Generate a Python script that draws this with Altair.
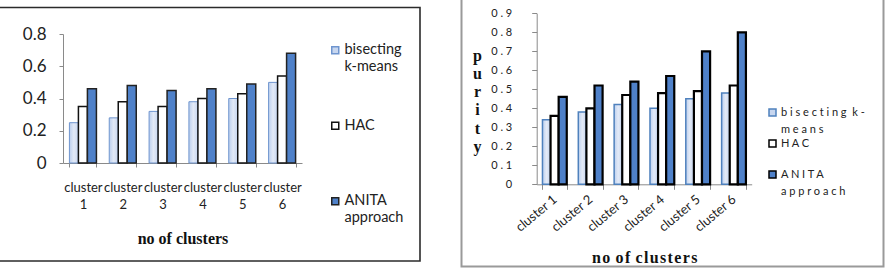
import altair as alt
import pandas as pd

# Categories and series shared by both panels
clusters = ["cluster 1", "cluster 2", "cluster 3", "cluster 4", "cluster 5", "cluster 6"]
series = ["bisecting k-means", "HAC", "ANITA approach"]

# Left panel values
left_bisecting = [0.25, 0.28, 0.32, 0.38, 0.40, 0.50]
left_hac = [0.35, 0.38, 0.35, 0.40, 0.43, 0.54]
left_anita = [0.46, 0.48, 0.45, 0.46, 0.49, 0.68]
left_ticks = [0, 0.2, 0.4, 0.6, 0.8]

# Right panel values (purity)
right_bisecting = [0.34, 0.38, 0.42, 0.40, 0.45, 0.48]
right_hac = [0.36, 0.40, 0.47, 0.48, 0.49, 0.52]
right_anita = [0.46, 0.52, 0.54, 0.57, 0.70, 0.80]
right_ticks = [0, 0.1, 0.2, 0.3, 0.4, 0.5, 0.6, 0.7, 0.8, 0.9]

NBSP = "\u00a0"
HAIR = "\u200a"


def long_table(*columns):
    rows = []
    for name, values in zip(series, columns):
        for c, v in zip(clusters, values):
            rows.append({"cluster": c, "series": name, "value": v})
    return pd.DataFrame(rows)


left_df = long_table(left_bisecting, left_hac, left_anita)
right_df = long_table(right_bisecting, right_hac, right_anita)

FILL = ["#c7d6ef", "#ffffff", "#4f81c9"]
bisect_gradient = {
    "gradient": "linear",
    "x1": 0, "y1": 0, "x2": 1, "y2": 0,
    "stops": [
        {"offset": 0, "color": "#bccfee"},
        {"offset": 0.5, "color": "#e3eaf7"},
        {"offset": 1, "color": "#c6d5ef"},
    ],
}
is_bisect = alt.datum.series == "bisecting k-means"


def spaced(text, gap=" "):
    """Letter-spaced text: a gap between letters, a wider one between words."""
    return (NBSP + gap).join(gap.join(list(w)) for w in text.split(" "))


def label_expr(mapping):
    expr = "datum.label"
    for key, lines in reversed(list(mapping.items())):
        arr = "[" + ", ".join("'" + l + "'" for l in lines) + "]"
        expr = f"datum.label == '{key}' ? {arr} : ({expr})"
    return expr


# every entry takes two lines so the legend rows are evenly spaced
left_legend_labels = {
    "bisecting k-means": ["bisecting", "k-means"],
    "HAC": ["HAC", NBSP],
    "ANITA approach": ["ANITA", "approach"],
}
right_legend_labels = {
    "bisecting k-means": [spaced("bisecting k-"), spaced("means")],
    "HAC": [spaced("HAC"), NBSP],
    "ANITA approach": [spaced("ANITA"), spaced("approach")],
}


def legend(x, y, labels, font_size, row_pad, offset):
    return alt.Legend(
        title=None, orient="none", legendX=x, legendY=y,
        symbolType="square", symbolSize=49, symbolStrokeWidth=1.5,
        labelFont="Lato", labelFontSize=font_size, labelColor="#222",
        labelExpr=label_expr(labels), labelLimit=300, labelBaseline="middle",
        rowPadding=row_pad, labelOffset=offset,
    )


def bar_layer(df, x_range, x_axis, y_domain, y_range, y_axis, leg, strokes, widths):
    return alt.Chart(df).mark_bar().encode(
        x=alt.X("cluster:N", sort=clusters,
                scale=alt.Scale(range=x_range, paddingInner=0.322, paddingOuter=0.161),
                axis=x_axis),
        xOffset=alt.XOffset("series:N", sort=series, scale=alt.Scale(paddingInner=0, paddingOuter=0)),
        y=alt.Y("value:Q", scale=alt.Scale(domain=y_domain, range=y_range, nice=False),
                axis=y_axis),
        fill=alt.condition(is_bisect, alt.value(bisect_gradient),
                           alt.Fill("series:N", sort=series,
                                    scale=alt.Scale(domain=series, range=FILL), legend=leg)),
        stroke=alt.Stroke("series:N", sort=series,
                          scale=alt.Scale(domain=series, range=strokes), legend=leg),
        strokeWidth=alt.condition(is_bisect, alt.value(widths[0]), alt.value(widths[1])),
    )


H = 272

left_bars = bar_layer(
    left_df, [63, 302],
    alt.Axis(orient="bottom", offset=-(H - 163), labelAngle=0,
             labelExpr="split(datum.label, ' ')", labelFont="Lato", labelFontSize=13,
             labelLineHeight=17, labelColor="#222", labelPadding=14,
             tickBand="extent", tickSize=4, domainColor="#8a8a8a", tickColor="#8a8a8a",
             title="no of clusters", titleFont="Liberation Serif", titleFontWeight="bold",
             titleFontSize=16, titleColor="#111", titleY=75, titleBaseline="middle"),
    [0, 0.8], [163, 34],
    alt.Axis(orient="left", offset=-63, values=left_ticks, format=".1~f", grid=False,
             labelFont="Lato", labelFontSize=17, labelColor="#222", labelPadding=13,
             tickSize=4, domainColor="#8a8a8a", tickColor="#8a8a8a", title=None),
    legend(328, 43, left_legend_labels, 14.5, 43.5, 2),
    ["#6f95cf", "#111111", "#222222"], [1, 1.5],
)

right_bars = bar_layer(
    right_df, [536.7, 751.7],
    alt.Axis(orient="bottom", offset=-(H - 184.3), labelAngle=-40, labelAlign="right",
             labelBaseline="middle", labelFont="Lato", labelFontSize=13,
             labelColor="#222", labelPadding=8,
             tickBand="extent", tickSize=5, domainColor="#8a8a8a", tickColor="#8a8a8a",
             title=spaced("no of clusters", HAIR), titleFont="Liberation Serif",
             titleFontWeight="bold", titleFontSize=16, titleColor="#111",
             titleY=73.5, titleBaseline="middle"),
    [0, 0.9], [184.3, 13.3],
    alt.Axis(orient="left", offset=-536.7, values=right_ticks, format=".1~f", grid=False,
             labelExpr="join(split(datum.label, ''), ' ')",
             labelFont="Lato", labelFontSize=11, labelColor="#222", labelPadding=20,
             tickSize=5, domainColor="#8a8a8a", tickColor="#8a8a8a",
             title=["p", "u", "r", "i", "t", "y"], titleAngle=0, titleAlign="center",
             titleBaseline="middle", titleX=-59.7, titleY=55, titleLineHeight=18.3,
             titleFont="Liberation Serif", titleFontWeight="bold", titleFontSize=16,
             titleColor="#111"),
    legend(767, 107, right_legend_labels, 11, 2, 3),
    ["#4f81bd", "#000000", "#000000"], [1.5, 2.2],
)

one = alt.Data(values=[{}])
left_box = alt.Chart(one).mark_rect(fillOpacity=0, stroke="#2b2b2b", strokeWidth=1.6).encode(
    x=alt.value(-6), x2=alt.value(420), y=alt.value(7.5), y2=alt.value(261)
)
right_box = alt.Chart(one).mark_rect(fillOpacity=0, stroke="#9a9a9a", strokeWidth=2).encode(
    x=alt.value(461.5), x2=alt.value(883.5), y=alt.value(-4), y2=alt.value(266.5)
)

chart = (
    alt.layer(left_box, right_box, left_bars, right_bars)
    .resolve_scale(x="independent", y="independent", xOffset="independent",
                   fill="independent", stroke="independent")
    .resolve_axis(x="independent", y="independent")
    .resolve_legend(fill="independent", stroke="independent")
    .properties(width=888, height=H, padding=0, autosize=alt.AutoSizeParams(type="none"),
                background="white")
    .configure(style={"guide-label": {"lineHeight": 17}})
    .configure_view(strokeOpacity=0)
)

chart.save("out.html", embed_options={"renderer": "svg", "actions": False})
